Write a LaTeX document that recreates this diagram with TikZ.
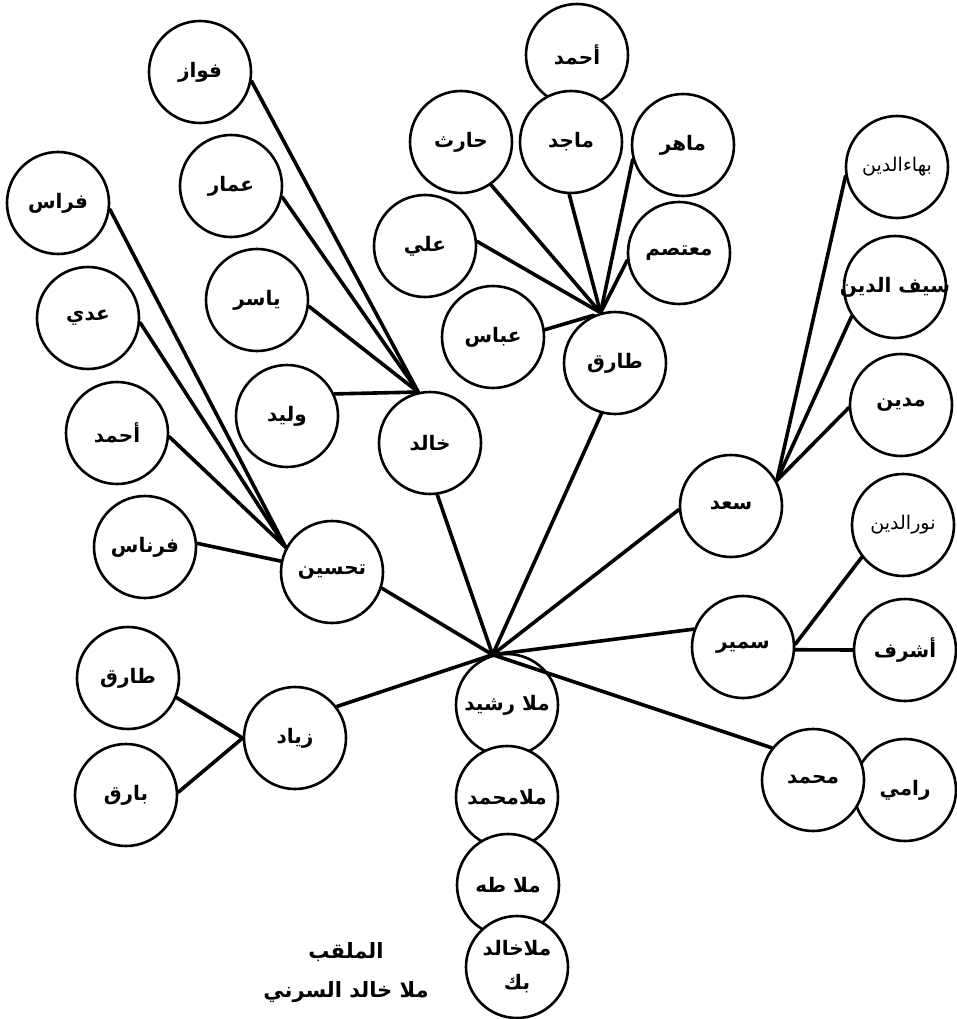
\documentclass[tikz,border=0pt]{standalone}
\usepackage{fontspec}
\usetikzlibrary{positioning}
\newfontfamily\arabicfont[Script=Arabic]{DejaVu Sans}
\TeXXeTstate=1

\begin{document}
\begin{tikzpicture}[x=1pt, y=-1pt,
  person/.style={circle, draw=black, fill=white, line width=2.6pt, minimum size=102pt, inner sep=0pt, font=\arabicfont\bfseries\fontsize{20}{23}\selectfont},
  faint/.style={font=\arabicfont\fontsize{19}{22}\selectfont},
  mulla/.style={font=\arabicfont\bfseries\fontsize{20}{34}\selectfont},
  link/.style={line width=3.6pt, line cap=round},
]
\useasboundingbox (0,0) rectangle (957,1019);

% family members, drawn in order so that later circles lie on top
\foreach \nm/\px/\py/\txt in {%
  fawaz/200/72/فواز, ammar/231/186/عمار, yasir/257/300/ياسر, walid/287/416/وليد,
  khalid/430/443/خالد, firas/58/203/فراس, adi/88/318/عدي, ahmadl/117/433/أحمد,
  firnas/145/547/فرناس, tahsin/332/572/تحسين, tariql/128/678/طارق, bariq/126/795/بارق,
  ziad/295/738/زياد, ahmadt/577/55/أحمد, majid/571/142/ماجد, harith/461/142/حارث,
  mahir/683/145/ماهر, mutasim/679/253/معتصم, ali/425/246/علي, abbas/493/337/عباس,
  tariq/615/363/طارق, madin/901/405/مدين, saad/731/506/سعد,
  samir/743/647/سمير, ashraf/905/650/أشرف, rami/905/790/رامي, mohammed/813/780/محمد%
} {
  \node[person] (\nm) at (\px,\py) {\beginR\txt\endR};
}
% this name runs over its circle
\node[person] (saif) at (895,287) {\makebox[0pt][c]{\beginR سيف الدين\endR}};
\node[person, faint] (baha) at (897,167) {\beginR بهاءالدين\endR};
\node[person, faint] (nur) at (903,525) {\beginR نورالدين\endR};
\foreach \nm/\px/\py/\txt in {rashid/507/705/ملا رشيد, mmohammed/507/797/ملامحمد, taha/508/885/ملا طه} {
  \node[person, mulla] (\nm) at (\px,\py) {\beginR\txt\endR};
}
\node[person, mulla, align=center] (khalidbek) at (517,967) {\beginR ملاخالد\endR\\\beginR بك\endR};

\node[font=\arabicfont\bfseries\fontsize{21}{39}\selectfont, align=center] (title) at (346,973)
  {\beginR الملقب\endR\\\beginR ملا خالد السرني\endR};

% branches of the trunk
\foreach \ch/\an in {tahsin/-18, ziad/37, khalid/-82, tariq/-105, saad/184, samir/160, mohammed/142} {
  \draw[link] (rashid.106) -- (\ch.\an);
}
% sub-branches
\foreach \ch/\an/\hub in {%
  fawaz/-10/khalid.103, ammar/-12/khalid.103, yasir/-7/khalid.103, walid/25/khalid.103,
  firas/-7/tahsin.152, adi/-5/tahsin.152, ahmadl/-4/tahsin.152, firnas/4/tahsin.168,
  harith/-55/tariq.106, majid/-92/tariq.106, mahir/-164/tariq.106, mutasim/-172/tariq.106,
  ali/5/tariq.106, abbas/8/tariq.114,
  baha/190/saad.29, saif/214/saad.29, madin/183/saad.29,
  nur/218/samir.3, ashraf/180/samir.-3,
  tariql/-22/ziad.180, bariq/3/ziad.180%
} {
  \draw[link] (\ch.\an) -- (\hub);
}
\end{tikzpicture}
\end{document}
